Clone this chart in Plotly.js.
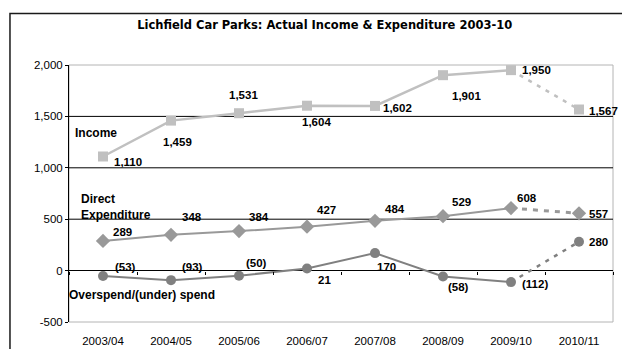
<!DOCTYPE html>
<html><head><meta charset="utf-8">
<script src="https://cdn.plot.ly/plotly-3.0.1.min.js"></script>
<style>html,body{margin:0;padding:0;background:#fff}#chart{width:622px;height:349px}</style>
</head><body><div id="chart"></div>
<script>
// ---- data ----
const years = ['2003/04','2004/05','2005/06','2006/07','2007/08','2008/09','2009/10','2010/11'];
const income = [1110,1459,1531,1604,1602,1901,1950,1567];
const expenditure = [289,348,384,427,484,529,608,557];
const overspend = [-53,-93,-50,21,170,-58,-112,280];
const actualCount = 7; // last year is a projection (dashed)
const yTicks = [-500,0,500,1000,1500,2000];
const gridValues = [500,1000,1500];
const chartTitle = 'Lichfield Car Parks: Actual Income & Expenditure 2003-10';
const seriesNames = ['Income','Direct','Expenditure','Overspend/(under) spend'];

// ---- label offsets (px) ----
const incomeOffsets = [[25,-6],[6,-21],[4,18],[9,-16],[22,-2],[23,-21],[25,0],[24,-1]];
const expOffsets = [[19,9],[21,18],[20,14],[19,17],[20,12],[18,14],[16,10],[19,-1]];
const overOffsets = [[22,9],[21,13],[17,13],[17,-12],[11,-14],[15,-10],[24,-2],[19,0]];

const FONT = 'Liberation Sans, Arial, sans-serif';
const TITLE_FONT = 'DejaVu Sans, Verdana, sans-serif';
const fmt = v => v < 0 ? '(' + Math.abs(v).toLocaleString('en-US') + ')' : v.toLocaleString('en-US');

const lineTraces = [], markerTraces = [];
function addSeries(vals, color, symbol, size, width, dashWidth, dash) {
  lineTraces.push({
    x: years.slice(actualCount - 1), y: vals.slice(actualCount - 1),
    mode: 'lines', line: {color: color, width: dashWidth, dash: dash},
    showlegend: false, hoverinfo: 'skip'
  });
  lineTraces.push({
    x: years.slice(0, actualCount), y: vals.slice(0, actualCount),
    mode: 'lines', line: {color: color, width: width},
    showlegend: false, hoverinfo: 'skip'
  });
  markerTraces.push({
    x: years, y: vals, mode: 'markers',
    marker: {symbol: symbol, size: size, color: color, opacity: 1, line: {width: 0}},
    showlegend: false, hoverinfo: 'skip', cliponaxis: false
  });
}
addSeries(income, '#c0c0c0', 'square', 10, 2.5, 2.5, '4px,6px');
addSeries(expenditure, '#999999', 'diamond', 11, 2, 3, '5px,6px');
addSeries(overspend, '#808080', 'circle', 10, 2, 2.5, '4px,6px');

const traces = lineTraces.concat(markerTraces);
// invisible trace to activate the zero-crossing tick axis
traces.push({x: [0], y: [null], xaxis: 'x2', yaxis: 'y', mode: 'markers', showlegend: false, hoverinfo: 'skip'});

const annotations = [];
function addLabels(vals, offs) {
  vals.forEach((v, i) => annotations.push({
    x: years[i], y: v, xref: 'x', yref: 'y', text: '<b>' + fmt(v) + '</b>',
    showarrow: false, xshift: offs[i][0], yshift: offs[i][1],
    font: {family: FONT, size: 11.5, color: '#000'}
  }));
}
addLabels(income, incomeOffsets);
addLabels(expenditure, expOffsets);
addLabels(overspend, overOffsets);

const nameFont = {family: FONT, size: 12, color: '#000'};
annotations.push({xref: 'paper', yref: 'paper', x: 0.0074, y: 0.736, xanchor: 'left', yanchor: 'middle', text: '<b>' + seriesNames[0] + '</b>', showarrow: false, font: nameFont});
annotations.push({xref: 'paper', yref: 'paper', x: 0.018, y: 0.479, xanchor: 'left', yanchor: 'middle', text: '<b>' + seriesNames[1] + '</b>', showarrow: false, font: nameFont});
annotations.push({xref: 'paper', yref: 'paper', x: 0.018, y: 0.417, xanchor: 'left', yanchor: 'middle', text: '<b>' + seriesNames[2] + '</b>', showarrow: false, font: nameFont});
annotations.push({xref: 'paper', yref: 'paper', x: -0.004, y: 0.106, xanchor: 'left', yanchor: 'middle', text: '<b>' + seriesNames[3] + '</b>', showarrow: false, font: nameFont});

const yMin = yTicks[0], yMax = yTicks[yTicks.length - 1];
const shapes = [
  // plot area border (grey)
  {type: 'rect', xref: 'paper', yref: 'paper', x0: 0, x1: 1, y0: 0, y1: 1, line: {color: '#b4b4b4', width: 1}, layer: 'below'},
  // outer chart frame
  {type: 'rect', xref: 'paper', yref: 'paper', x0: -0.1085, x1: 1.2, y0: -0.3, y1: 1.2, line: {color: '#1a1a1a', width: 1.5}, layer: 'above'}
];
gridValues.forEach(g => shapes.push({type: 'line', xref: 'paper', yref: 'y', x0: 0, x1: 1, y0: g, y1: g, line: {color: '#000', width: 1}, layer: 'below'}));

const layout = {
  width: 622, height: 349,
  margin: {l: 69, r: 9, t: 65, b: 27, pad: 0},
  paper_bgcolor: '#fff', plot_bgcolor: '#fff',
  font: {family: FONT, size: 11, color: '#000'},
  title: {text: '<b>' + chartTitle + '</b>', x: 0.522, xref: 'container', xanchor: 'center', y: 0.928, yref: 'container', yanchor: 'middle', font: {family: TITLE_FONT, size: 11.5, color: '#000'}},
  xaxis: {type: 'category', categoryorder: 'array', categoryarray: years, range: [-0.5, years.length - 0.5],
    showline: false, ticks: '', showgrid: false, zeroline: false, tickfont: {family: FONT, size: 11.5, color: '#000'}, ticklabelstandoff: 10},
  xaxis2: {overlaying: 'x', anchor: 'free', position: (0 - yMin) / (yMax - yMin), type: 'linear', range: [-0.5, years.length - 0.5],
    tickmode: 'array', tickvals: years.map((_, i) => i - 0.5).concat([years.length - 0.5]),
    ticks: 'outside', ticklen: 3, tickcolor: '#000', tickwidth: 1, showticklabels: false, showgrid: false, zeroline: false, showline: false},
  yaxis: {range: [yMin, yMax], tickmode: 'array', tickvals: yTicks, ticktext: yTicks.map(v => v.toLocaleString('en-US')),
    ticks: 'outside', ticklen: 3, tickcolor: '#000', showline: true, linecolor: '#000', linewidth: 1,
    showgrid: false, zeroline: true, zerolinecolor: '#000', zerolinewidth: 1, tickfont: {family: FONT, size: 11.5, color: '#000'}},
  shapes: shapes,
  annotations: annotations,
  showlegend: false
};
Plotly.newPlot('chart', traces, layout, {staticPlot: true, displayModeBar: false});
</script></body></html>
